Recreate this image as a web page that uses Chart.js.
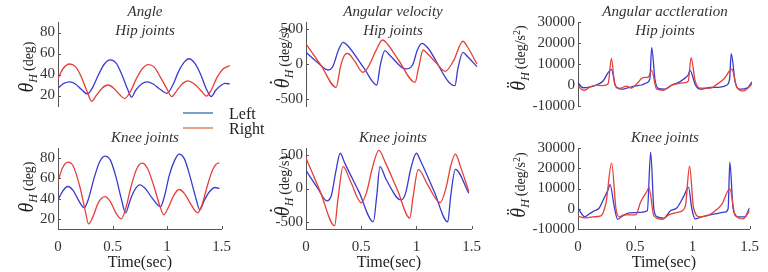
<!DOCTYPE html>
<html>
<head>
<meta charset="utf-8">
<script src="https://cdn.jsdelivr.net/npm/chart.js@4"></script>
<style>
body { margin: 0; width: 768px; height: 272px; background: #fff; position: relative; overflow: hidden; font-family: 'Liberation Serif', serif; color: #333; }
.box { position: absolute; }
.ttl { position: absolute; font-style: italic; font-size: 15px; line-height: 1; white-space: nowrap; transform: translateX(-50%); color: #333; }
.ytl { position: absolute; white-space: nowrap; font-size: 14px; line-height: 1; transform: translate(-50%, -50%) rotate(-90deg); color: #222; }
.ytl .th { position: relative; font-style: italic; font-size: 20px; }
.ytl .dot { position: absolute; left: 0.12em; top: -0.22em; font-style: normal; font-size: 20px; }
.ytl sub { font-style: italic; font-size: 12px; vertical-align: -0.3em; margin-right: 3px; }
.ytl sup { font-size: 10px; vertical-align: 0.5em; }
.leg { position: absolute; font-size: 16px; line-height: 1; color: #222; }
.legline { position: absolute; width: 30px; height: 2px; }
</style>
</head>
<body>

<div class="box" style="left:0;top:0;width:240px;height:136px"><canvas id="c1"></canvas></div>
<div class="box" style="left:250px;top:0;width:240px;height:136px"><canvas id="c2"></canvas></div>
<div class="box" style="left:500px;top:0;width:268px;height:136px"><canvas id="c3"></canvas></div>
<div class="box" style="left:0;top:136px;width:240px;height:136px"><canvas id="c4"></canvas></div>
<div class="box" style="left:250px;top:136px;width:240px;height:136px"><canvas id="c5"></canvas></div>
<div class="box" style="left:500px;top:136px;width:268px;height:136px"><canvas id="c6"></canvas></div>

<div class="ttl" style="left:145px;top:4px">Angle</div>
<div class="ttl" style="left:393px;top:4px">Angular velocity</div>
<div class="ttl" style="left:665px;top:4px">Angular acctleration</div>
<div class="ttl" style="left:145px;top:23px">Hip joints</div>
<div class="ttl" style="left:393px;top:23px">Hip joints</div>
<div class="ttl" style="left:665px;top:23px">Hip joints</div>
<div class="ttl" style="left:145px;top:130px">Knee joints</div>
<div class="ttl" style="left:393px;top:130px">Knee joints</div>
<div class="ttl" style="left:665px;top:130px">Knee joints</div>

<div class="ytl" style="left:27px;top:67px"><span class="th">θ</span><sub>H</sub>(deg)</div>
<div class="ytl" style="left:27px;top:187px"><span class="th">θ</span><sub>H</sub>(deg)</div>
<div class="ytl" style="left:283px;top:58px"><span class="th">θ<span class="dot">˙</span></span><sub>H</sub>(deg/s)</div>
<div class="ytl" style="left:283px;top:186px"><span class="th">θ<span class="dot">˙</span></span><sub>H</sub>(deg/s)</div>
<div class="ytl" style="left:519px;top:58px"><span class="th">θ<span class="dot">¨</span></span><sub>H</sub>(deg/s<sup>2</sup>)</div>
<div class="ytl" style="left:519px;top:185px"><span class="th">θ<span class="dot">¨</span></span><sub>H</sub>(deg/s<sup>2</sup>)</div>

<div class="legline" style="left:183px;top:112px;background:#7d9fd0"></div>
<div class="legline" style="left:183px;top:127px;background:#e8a08a"></div>
<div class="leg" style="left:229px;top:106px">Left</div>
<div class="leg" style="left:229px;top:121px">Right</div>

<script>
// time ticks shared by all panels
const timeTicks = [0, 0.5, 1, 1.5];
const angleTicks = [20, 40, 60, 80];
const velTicks = [-500, 0, 500];
const accTicks = [-10000, 0, 10000, 20000, 30000];

// [time (s), value]
const hipAngleLeft = [[0,27],[0.05,31.5],[0.1,33],[0.15,31],[0.2,26],[0.255,21.5],[0.3,28],[0.35,40],[0.4,50],[0.45,54],[0.5,51],[0.55,40],[0.6,26],[0.635,18.5],[0.67,25],[0.72,31],[0.77,33],[0.82,31],[0.88,26],[0.94,22],[0.99,30],[1.04,43],[1.09,52],[1.13,55],[1.18,50.5],[1.23,40],[1.28,26],[1.32,19],[1.36,25],[1.41,30],[1.44,31.5],[1.48,31]];
const hipAngleRight = [[0,36],[0.04,45],[0.1,50],[0.15,47.5],[0.2,38],[0.25,24],[0.29,14.5],[0.33,20],[0.38,27],[0.43,30],[0.48,27],[0.53,21],[0.575,17],[0.62,23],[0.68,37],[0.73,46],[0.78,49.5],[0.83,47],[0.88,38],[0.94,26],[0.98,19],[1.02,24],[1.07,31],[1.12,34],[1.17,31.5],[1.23,25],[1.28,19.5],[1.32,25],[1.37,37],[1.42,45],[1.48,48.5]];
const kneeAngleLeft = [[0,38.7],[0.04,47],[0.09,52],[0.14,48],[0.19,38],[0.24,31],[0.28,40],[0.33,60],[0.38,76],[0.43,82],[0.48,78],[0.53,62],[0.58,40],[0.62,26],[0.66,38],[0.7,48],[0.75,53.6],[0.8,50],[0.86,41],[0.94,32],[0.98,44],[1.02,63],[1.07,78],[1.11,84],[1.16,79],[1.21,62],[1.26,42],[1.3,29],[1.34,38],[1.39,47],[1.44,51],[1.48,50]];
const kneeAngleRight = [[0,57],[0.04,70],[0.09,76],[0.14,72],[0.2,52],[0.25,28],[0.28,15],[0.32,22],[0.37,36],[0.43,42],[0.48,37],[0.53,26],[0.58,20],[0.62,30],[0.67,52],[0.72,69],[0.77,75],[0.82,70],[0.88,52],[0.93,34],[0.97,24],[1.01,31],[1.06,43],[1.11,49],[1.16,45],[1.22,34],[1.28,26],[1.32,34],[1.37,53],[1.42,69],[1.47,75],[1.48,75]];

const hipVelLeft = [[0,167],[0.1,20],[0.19,-86],[0.23,-40],[0.28,200],[0.32,310],[0.36,260],[0.5,-60],[0.61,-300],[0.64,-20],[0.68,191],[0.72,130],[0.86,-71],[0.92,-10],[0.96,200],[1.0,296],[1.04,250],[1.284,-309],[1.31,-60],[1.353,167],[1.39,110],[1.474,-38]];
const hipVelRight = [[0,286],[0.13,-20],[0.259,-333],[0.3,-20],[0.336,134],[0.36,150],[0.42,40],[0.49,-119],[0.53,-60],[0.6,180],[0.66,343],[0.7,290],[0.8,50],[0.94,-262],[0.97,-60],[1.01,200],[1.04,160],[1.12,20],[1.2,-104],[1.27,40],[1.353,325],[1.39,250],[1.474,0]];
const kneeVelLeft = [[0,268],[0.1,20],[0.19,-183],[0.23,-100],[0.27,250],[0.31,522],[0.35,380],[0.48,-50],[0.61,-493],[0.64,-120],[0.67,324],[0.724,141],[0.86,-169],[0.9,-80],[0.95,300],[1.0,522],[1.04,400],[1.16,-40],[1.284,-493],[1.31,-120],[1.353,282],[1.474,-70]];
const kneeVelRight = [[0,451],[0.13,-50],[0.259,-550],[0.29,-150],[0.336,324],[0.405,99],[0.5,-211],[0.55,-50],[0.6,300],[0.66,564],[0.72,380],[0.83,-30],[0.94,-437],[0.97,-120],[1.017,282],[1.1,60],[1.215,-211],[1.27,20],[1.31,330],[1.353,508],[1.4,320],[1.474,-42]];

const hipAccLeft = [[0,1100],[0.043,-1300],[0.1,-1000],[0.16,0],[0.216,1900],[0.26,5900],[0.288,7400],[0.326,-800],[0.375,-2000],[0.433,-1300],[0.49,-500],[0.548,0],[0.591,1000],[0.62,3000],[0.635,17800],[0.664,2500],[0.692,-1600],[0.75,-2000],[0.808,0],[0.865,1100],[0.909,2700],[0.952,5000],[0.966,7000],[1.01,300],[1.053,-2000],[1.139,-1200],[1.226,-1000],[1.284,0],[1.307,3000],[1.321,14900],[1.356,1100],[1.399,-2000],[1.457,-1500],[1.5,1500]];
const hipAccRight = [[0,0],[0.029,-2000],[0.058,-2500],[0.1,-1000],[0.16,-100],[0.216,-300],[0.26,600],[0.288,12700],[0.317,300],[0.36,-1600],[0.418,-500],[0.46,-1500],[0.505,500],[0.562,3500],[0.606,3800],[0.635,7000],[0.678,-2000],[0.735,-2500],[0.793,-500],[0.851,500],[0.909,1000],[0.95,1800],[0.975,13000],[1.01,2000],[1.053,-1500],[1.139,-1500],[1.197,300],[1.255,2700],[1.327,7500],[1.37,-1200],[1.428,-2800],[1.471,-1200],[1.5,600]];
const kneeAccLeft = [[0,300],[0.058,-4000],[0.1,-2500],[0.144,-1000],[0.187,500],[0.216,3800],[0.26,9000],[0.28,11900],[0.317,1000],[0.346,-5200],[0.39,-3500],[0.447,-2000],[0.548,-1800],[0.606,-1000],[0.635,28000],[0.663,0],[0.692,-4000],[0.75,-4600],[0.808,-1000],[0.865,500],[0.923,6000],[0.966,10600],[0.995,0],[1.024,-5000],[1.082,-4000],[1.197,-2500],[1.284,-1700],[1.312,0],[1.327,23000],[1.356,0],[1.399,-4000],[1.457,-4000],[1.5,500]];
const kneeAccRight = [[0,-3700],[0.058,-4500],[0.13,-4000],[0.2,-3500],[0.216,-2500],[0.245,3000],[0.294,22500],[0.332,0],[0.36,-4000],[0.404,-3000],[0.505,-3000],[0.548,3500],[0.606,9000],[0.62,10600],[0.663,-3500],[0.735,-5200],[0.793,-3000],[0.88,-1700],[0.937,1000],[0.975,21000],[1.01,500],[1.067,-4000],[1.139,-3300],[1.197,-1100],[1.255,2000],[1.327,9800],[1.37,-2500],[1.442,-5000],[1.5,-1000]];

const BLUE = '#3a3acc';
const RED = '#e5403a';
const FONT = 'Liberation Serif';

// MATLAB style ticks pointing into the plot
const inwardTicks = {
    id: 'inwardTicks',
    afterDraw(chart) {
        const {ctx, chartArea: a, scales} = chart;
        ctx.save();
        ctx.strokeStyle = '#555';
        ctx.lineWidth = 1;
        ctx.beginPath();
        scales.y.ticks.forEach(t => {
            const y = Math.round(scales.y.getPixelForValue(t.value)) + 0.5;
            ctx.moveTo(a.left, y);
            ctx.lineTo(a.left + 3, y);
        });
        if (scales.x.options.display) {
            scales.x.ticks.forEach(t => {
                const x = Math.round(scales.x.getPixelForValue(t.value)) + 0.5;
                ctx.moveTo(x, a.bottom);
                ctx.lineTo(x, a.bottom - 3);
            });
        }
        ctx.stroke();
        ctx.restore();
    }
};

function series(points, color) {
    return {
        data: points.map(p => ({x: p[0], y: p[1]})),
        borderColor: color,
        borderWidth: 1.3,
        pointRadius: 0,
        cubicInterpolationMode: 'monotone',
        fill: false
    };
}

function makePanel(id, left, right, yMin, yMax, yTicks, yWidth, padRight, bottomRow) {
    new Chart(document.getElementById(id), {
        type: 'line',
        data: {datasets: [series(right, RED), series(left, BLUE)]},
        options: {
            responsive: true,
            maintainAspectRatio: false,
            animation: false,
            layout: {padding: {top: bottomRow ? 8 : 22, right: padRight, bottom: bottomRow ? 0 : 30, left: 0}},
            plugins: {legend: {display: false}, tooltip: {enabled: false}},
            scales: {
                x: {
                    type: 'linear',
                    min: 0,
                    max: 1.5,
                    display: bottomRow,
                    afterBuildTicks: s => { s.ticks = timeTicks.map(v => ({value: v})); },
                    afterFit: s => { if (bottomRow) s.height = 43; },
                    grid: {display: false, drawTicks: false},
                    border: {color: '#555', width: 1},
                    ticks: {padding: 9, autoSkip: false, color: '#333', maxRotation: 0, font: {family: FONT, size: 15}, callback: v => String(v)},
                    title: {display: true, text: 'Time(sec)', color: '#222', padding: 0, font: {family: FONT, size: 16}}
                },
                y: {
                    min: yMin,
                    max: yMax,
                    afterBuildTicks: s => { s.ticks = yTicks.map(v => ({value: v})); },
                    afterFit: s => { s.width = yWidth; },
                    grid: {display: false, drawTicks: false},
                    border: {color: '#555', width: 1},
                    ticks: {padding: 3, autoSkip: false, color: '#333', font: {family: FONT, size: 15}, callback: v => String(v)}
                }
            }
        },
        plugins: [inwardTicks]
    });
}

makePanel('c1', hipAngleLeft, hipAngleRight, 10, 90, angleTicks, 58, 8, false);
makePanel('c2', hipVelLeft, hipVelRight, -600, 600, velTicks, 56, 10, false);
makePanel('c3', hipAccLeft, hipAccRight, -10000, 30000, accTicks, 78, 16, false);
makePanel('c4', kneeAngleLeft, kneeAngleRight, 10, 90, angleTicks, 58, 8, true);
makePanel('c5', kneeVelLeft, kneeVelRight, -600, 600, velTicks, 56, 10, true);
makePanel('c6', kneeAccLeft, kneeAccRight, -10000, 30000, accTicks, 78, 16, true);
</script>
</body>
</html>
